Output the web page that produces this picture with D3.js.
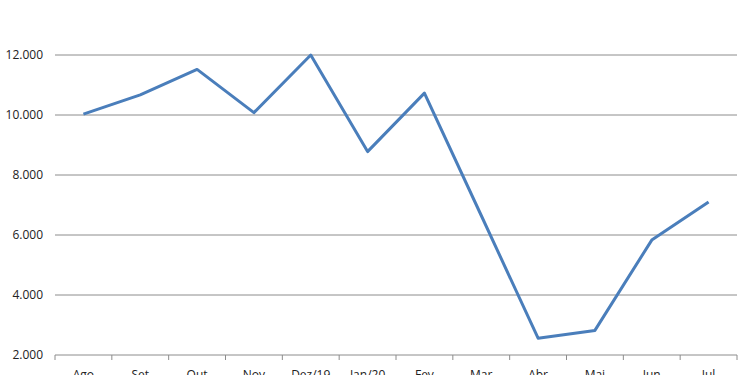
<!DOCTYPE html>
<html>
<head>
<meta charset="utf-8">
<script src="https://cdn.jsdelivr.net/npm/d3@7"></script>
<style>
  body { margin: 0; background: #fff; }
  svg { display: block; font-family: "Open Sans", "DejaVu Sans", sans-serif; }
</style>
</head>
<body>
<svg id="chart" width="750" height="375"></svg>
<script>
const months = ["Ago", "Set", "Out", "Nov", "Dez/19", "Jan/20", "Fev", "Mar", "Abr", "Mai", "Jun", "Jul"];
const values = [10030, 10670, 11520, 10080, 12000, 8780, 10730, 6650, 2560, 2820, 5830, 7100];
const yTicks = [2000, 4000, 6000, 8000, 10000, 12000];

const margin = { top: 55, bottom: 20, left: 55, right: 13 };
const svg = d3.select("#chart");
const width = 750 - margin.left - margin.right;
const height = 375 - margin.top - margin.bottom;

const g = svg.append("g").attr("transform", `translate(${margin.left},${margin.top})`);

const xScale = d3.scaleBand().domain(months).range([0, width]);
const yScale = d3.scaleLinear().domain([2000, 12000]).range([height, 0]);

const fmt = (d) => d3.format(",")(d).replace(/,/g, ".");

// gridlines
g.append("g")
  .selectAll("line")
  .data(yTicks.slice(1))
  .join("line")
  .attr("x1", 0)
  .attr("x2", width)
  .attr("y1", (d) => yScale(d))
  .attr("y2", (d) => yScale(d))
  .attr("stroke", "#8c8c8c")
  .attr("stroke-width", 1);

// y labels
g.append("g")
  .selectAll("text")
  .data(yTicks)
  .join("text")
  .attr("x", -12)
  .attr("y", (d) => yScale(d))
  .attr("dy", "0.35em")
  .attr("text-anchor", "end")
  .attr("font-size", 12)
  .attr("fill", "#222")
  .text(fmt);

// x axis with ticks at category boundaries
const xAxis = g.append("g").attr("transform", `translate(0,${height})`);
xAxis.append("line")
  .attr("x1", 0)
  .attr("x2", width)
  .attr("stroke", "#8c8c8c");
xAxis.selectAll(".tick")
  .data(d3.range(months.length + 1))
  .join("line")
  .attr("class", "tick")
  .attr("x1", (i) => i * xScale.step())
  .attr("x2", (i) => i * xScale.step())
  .attr("y1", 0)
  .attr("y2", 5)
  .attr("stroke", "#8c8c8c");
xAxis.selectAll("text")
  .data(months)
  .join("text")
  .attr("x", (d) => xScale(d) + xScale.bandwidth() / 2)
  .attr("y", 24)
  .attr("text-anchor", "middle")
  .attr("font-size", 12)
  .attr("fill", "#222")
  .text((d) => d);

// line
const line = d3.line()
  .x((d, i) => xScale(months[i]) + xScale.bandwidth() / 2)
  .y((d) => yScale(d));

g.append("path")
  .datum(values)
  .attr("d", line)
  .attr("fill", "none")
  .attr("stroke", "#4a7ebb")
  .attr("stroke-width", 3)
  .attr("stroke-linejoin", "round");
</script>
</body>
</html>
